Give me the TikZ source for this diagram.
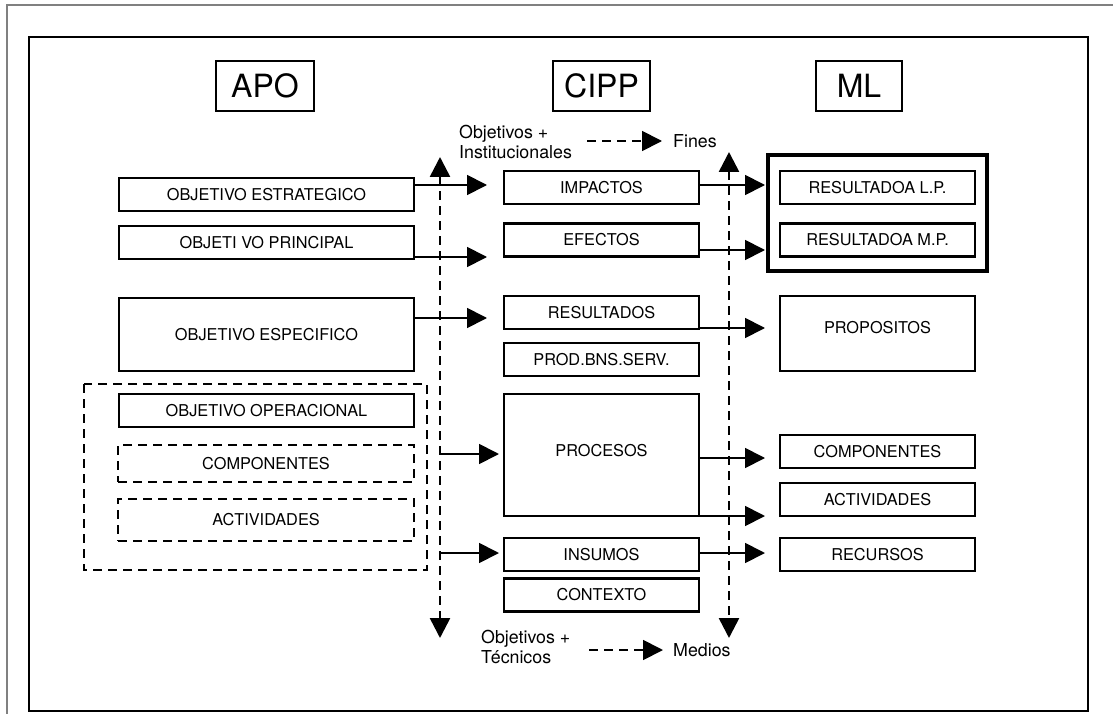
\documentclass[tikz,border=0pt]{standalone}
\usepackage{fontspec}
\setmainfont{TeX Gyre Heros}
\usepackage{tikz}
\usetikzlibrary{arrows.meta,positioning}
\newcommand{\boxfont}{\fontsize{16.3}{19}\selectfont}
\newcommand{\headfont}{\fontsize{32}{36}\selectfont}
\newcommand{\notefont}{\fontsize{17.8}{20}\selectfont}
\tikzset{
  box/.style={draw,line width=2.3pt,inner sep=0pt,minimum width=195pt,minimum height=33pt,font=\boxfont},
  dbox/.style={box,dash pattern=on 9pt off 6pt},
  head/.style={draw,line width=2.3pt,inner sep=0pt,minimum height=50pt,font=\headfont},
  note/.style={inner sep=0pt,align=left,font=\notefont},
  guide/.style={line width=2.6pt,dash pattern=on 9pt off 6pt}
}
\tikzstyle{arrow} = [line width=1.8pt,-{Triangle[length=20pt,width=20pt]}]
\tikzstyle{darrow} = [line width=1.8pt,dash pattern=on 9pt off 6pt,-{Triangle[length=20pt,width=20pt]}]
\tikzstyle{vguide} = [guide,{Triangle[length=20pt,width=20pt]}-{Triangle[length=20pt,width=20pt]}]

\begin{document}
\begin{tikzpicture}[x=1pt,y=-1pt]
  % Page and frames
  \useasboundingbox (0,0) rectangle (1113,714);
  \draw[gray,line width=1.5pt] (7,714) -- (7,5) -- (1113,5);
  \draw[line width=2.5pt] (29,37) rectangle (1088,711);

  % Column heads
  \node[head,minimum width=98pt] (apo)  at (265,86)   {APO};
  \node[head,minimum width=97pt] (cipp) at (601.5,86) {CIPP};
  \node[head,minimum width=86pt] (ml)   at (859,86)   {ML};

  % APO column
  \node[box,minimum width=295pt] (oestr) at (266.5,194.5) {OBJETIVO ESTRATEGICO};
  \node[box,minimum width=295pt] (oprin) at (266.5,242.5) {OBJETI VO PRINCIPAL};
  \node[box,minimum width=295pt,minimum height=73pt] (oespe) at (266.5,334.5) {OBJETIVO ESPECIFICO};
  \draw[line width=2.3pt,dash pattern=on 9pt off 6pt] (84,384) rectangle (427,570);
  \node[box,minimum width=295pt] (ooper) at (266.5,410.5) {OBJETIVO OPERACIONAL};
  \node[dbox,minimum width=296pt,minimum height=37pt] (ocomp) at (266,463.5) {COMPONENTES};
  \node[dbox,minimum width=296pt,minimum height=42pt] (oacti) at (266,520) {ACTIVIDADES};

  % CIPP column
  \node[box] (impac) at (601.5,187.5) {IMPACTOS};
  \node[box] (efect) at (601.5,240) {EFECTOS};
  \node[box] (resul) at (601.5,312.5) {RESULTADOS};
  \node[box] (prodb) at (601.5,359.5) {PROD.BNS.SERV.};
  \node[box,minimum height=122pt] (proce) at (601.5,455) {};
  \node[font=\boxfont] at (601.5,451) {PROCESOS};
  \node[box] (insum) at (601.5,554.5) {INSUMOS};
  \node[box] (conte) at (601.5,595) {CONTEXTO};

  % ML column
  \draw[line width=3.2pt] (768,155) rectangle (987,271);
  \node[box] (reslp) at (877.5,187.5) {RESULTADOA L.P.};
  \node[box] (resmp) at (877.5,240) {RESULTADOA M.P.};
  \node[box,minimum height=75pt] (propo) at (877.5,333.5) {};
  \node[font=\boxfont] at (877.5,328) {PROPOSITOS};
  \node[box] (mcomp) at (877.5,451.5) {COMPONENTES};
  \node[box] (macti) at (877.5,499.5) {ACTIVIDADES};
  \node[box] (mrecu) at (877.5,554.5) {RECURSOS};

  % Fines / medios guides
  \coordinate (ltop) at (440,157);
  \coordinate (lbot) at (440,638);
  \coordinate (rtop) at (729,152);
  \coordinate (rbot) at (729,638);
  \draw[vguide] (ltop) -- (lbot);
  \draw[vguide] (rtop) -- (rbot);

  \node[note,anchor=west] (inst) at (459,142) {Objetivos +\\Institucionales};
  \node[note,anchor=west] (fines) at (673,141) {Fines};
  \draw[darrow,shorten <=15pt,shorten >=11pt] (inst.east |- fines.west) -- (fines.west);
  \node[note,anchor=west] (tecn) at (481,647) {Objetivos +\\Técnicos};
  \node[note,anchor=west] (medio) at (673,650) {Medios};
  \draw[darrow,shorten >=10pt] (589,650) coordinate (mtail) -- (medio.west);

  % APO -> CIPP
  \coordinate (a1) at (487,185);
  \coordinate (a2) at (487,257);
  \coordinate (a3) at (487,318);
  \coordinate (a4) at (499,454);
  \coordinate (a5) at (499,553);
  \draw[arrow] (oestr.east |- a1) -- (a1);
  \draw[arrow] (oprin.east |- a2) -- (a2);
  \draw[arrow] (oespe.east |- a3) -- (a3);
  \draw[arrow] (ltop |- a4) -- (a4);
  \draw[arrow] (ltop |- a5) -- (a5);

  % CIPP -> ML
  \foreach \src/\yy in {impac/185,efect/250,resul/328,proce/458,proce/516,insum/553}
    \draw[arrow] (\src.east |- 0,\yy) -- (765,\yy);
\end{tikzpicture}
\end{document}
